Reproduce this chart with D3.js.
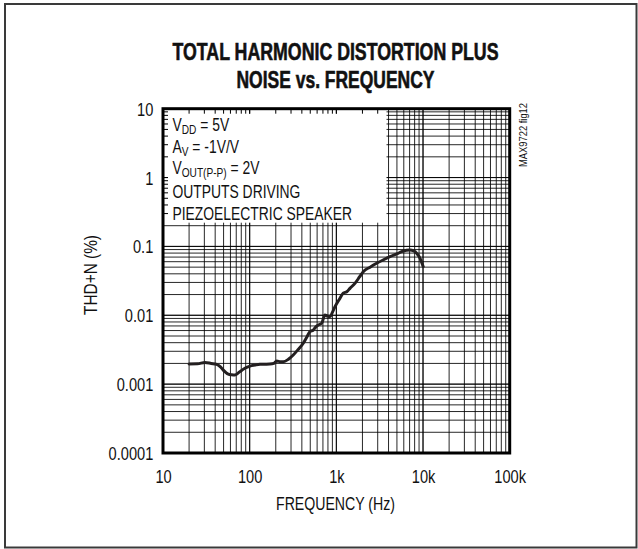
<!DOCTYPE html>
<html>
<head>
<meta charset="utf-8">
<script src="https://cdn.jsdelivr.net/npm/d3@7/dist/d3.min.js"></script>
<style>
  html, body { margin: 0; padding: 0; background: #fff; }
  svg { display: block; }
  text { font-family: "Liberation Sans", Arial, sans-serif; fill: #111; }
</style>
</head>
<body>
<svg id="chart" width="638" height="549"></svg>
<script>
// ---- data ----
const freqHz = [20, 25, 30.5, 36, 41.6, 46, 49.6, 53, 56.6, 62, 67.7, 72, 77.3, 88, 100.8, 115, 131.5, 150, 171, 190, 205, 225, 244, 280, 318, 360, 415, 455, 496, 541, 580, 618, 677, 739, 790, 844, 900, 964, 1080, 1201, 1320, 1435, 1639, 1850, 2043, 2450, 2916, 3500, 4152, 5000, 5909, 7062, 7800, 8438, 9300, 10050];
const thdPct = [0.00196, 0.00197, 0.00207, 0.00200, 0.00194, 0.00178, 0.00160, 0.00148, 0.00140, 0.00137, 0.00136, 0.00142, 0.00152, 0.00170, 0.00183, 0.00189, 0.00194, 0.00195, 0.00196, 0.00200, 0.00217, 0.00212, 0.00211, 0.00230, 0.00265, 0.00315, 0.00392, 0.00480, 0.00578, 0.00610, 0.00680, 0.00723, 0.00765, 0.01010, 0.00970, 0.00954, 0.01100, 0.01330, 0.01700, 0.02090, 0.02200, 0.02460, 0.02910, 0.03600, 0.04300, 0.05000, 0.05690, 0.06400, 0.07090, 0.07800, 0.08580, 0.08870, 0.08600, 0.07950, 0.06600, 0.05080];

const xTickValues = [10, 100, 1000, 10000, 100000];
const xTickLabels = ["10", "100", "1k", "10k", "100k"];
const yTickValues = [0.0001, 0.001, 0.01, 0.1, 1, 10];
const yTickLabels = ["0.0001", "0.001", "0.01", "0.1", "1", "10"];

const titleLines = ["TOTAL HARMONIC DISTORTION PLUS", "NOISE vs. FREQUENCY"];
const xAxisTitle = "FREQUENCY (Hz)";
const yAxisTitle = "THD+N (%)";
const figId = "MAX9722 fig12";
// legend lines: [main, subscript, rest]
const legendLines = [
  ["V", "DD", " = 5V"],
  ["A", "V", " = -1V/V"],
  ["V", "OUT(P-P)", " = 2V"],
  ["OUTPUTS DRIVING", "", ""],
  ["PIEZOELECTRIC SPEAKER", "", ""]
];

// ---- layout ----
const L = 163, R = 509.7, T = 108.7, B = 453;
const svg = d3.select("#chart");

const x = d3.scaleLog().domain([10, 100000]).range([L, R]);
const y = d3.scaleLog().domain([0.0001, 10]).range([B, T]);

// outer frame
svg.append("rect").attr("x", 5).attr("y", 4).attr("width", 631.5).attr("height", 543.5)
  .attr("fill", "#fff").attr("stroke", "#3a3a3a").attr("stroke-width", 2);

// title
titleLines.forEach((t, i) => {
  svg.append("text")
    .attr("x", 335.5).attr("y", [60, 88][i])
    .attr("text-anchor", "middle")
    .attr("font-size", 24).attr("font-weight", "bold")
    .attr("stroke", "#111").attr("stroke-width", 0.6)
    .attr("textLength", [326, 198][i]).attr("lengthAdjust", "spacingAndGlyphs")
    .text(t);
});

// grid values
const minorX = [], minorY = [];
for (let dec = 10; dec < 100000; dec *= 10) for (let k = 1; k <= 10; k++) minorX.push(dec * k);
for (let dec = 0.0001; dec < 10; dec *= 10) for (let k = 1; k <= 10; k++) minorY.push(+(dec * k).toPrecision(3));

const grid = svg.append("g").attr("stroke", "#000").attr("stroke-width", 1).attr("stroke-opacity", 0.85);
grid.selectAll("line.v").data(minorX.filter(v => v > 10 && v < 100000)).join("line")
  .attr("x1", d => x(d)).attr("x2", d => x(d)).attr("y1", T).attr("y2", B);
grid.selectAll("line.h").data(minorY.filter(v => v > 0.0001 && v < 10)).join("line")
  .attr("class", "h")
  .attr("x1", L).attr("x2", R).attr("y1", d => y(d)).attr("y2", d => y(d));

// legend box (white mask) with edge ticks
const boxR = 386.5, boxB = y(0.2) - 3;
svg.append("rect").attr("x", L).attr("y", T).attr("width", boxR - L).attr("height", boxB - T).attr("fill", "#fff");
const edge = svg.append("g").attr("stroke", "#000").attr("stroke-width", 1);
edge.selectAll("line.lt").data(minorY.filter(v => y(v) < boxB && v < 10)).join("line")
  .attr("x1", L).attr("x2", L + 5).attr("y1", d => y(d)).attr("y2", d => y(d));
edge.selectAll("line.tt").data(minorX.filter(v => x(v) < boxR && v > 10)).join("line")
  .attr("class", "tt")
  .attr("x1", d => x(d)).attr("x2", d => x(d)).attr("y1", T).attr("y2", T + 5);

// legend text
const legendBase = [130.5, 152.5, 173.5, 197.5, 219.5];
const lg = svg.append("g");
legendLines.forEach((ln, i) => {
  const t = lg.append("text")
    .attr("transform", `translate(172.5,${legendBase[i]}) scale(0.75,1)`)
    .attr("font-size", 18.5);
  t.append("tspan").text(ln[0]);
  if (ln[1]) t.append("tspan").attr("font-size", 13.5).attr("dy", 3.5).text(ln[1]);
  if (ln[2]) t.append("tspan").attr("dy", ln[1] ? -3.5 : 0).text(ln[2]);
});

// curve
const pts = freqHz.map((f, i) => [f, thdPct[i]]);
svg.append("path").datum(pts)
  .attr("fill", "none").attr("stroke", "#231f20").attr("stroke-width", 3)
  .attr("stroke-linejoin", "round").attr("stroke-linecap", "round")
  .attr("d", d3.line().x(d => x(d[0])).y(d => y(d[1])).curve(d3.curveMonotoneX));

// plot border
svg.append("rect").attr("x", L).attr("y", T).attr("width", R - L).attr("height", B - T)
  .attr("fill", "none").attr("stroke", "#000").attr("stroke-width", 3);

// axes (labels only)
const ax = svg.append("g").attr("transform", `translate(0,${B})`)
  .call(d3.axisBottom(x).tickValues(xTickValues).tickFormat((d, i) => xTickLabels[i]).tickSize(0).tickPadding(17));
const ay = svg.append("g").attr("transform", `translate(${L},0)`)
  .call(d3.axisLeft(y).tickValues(yTickValues).tickFormat((d, i) => yTickLabels[i]).tickSize(0).tickPadding(12.3));
[ax, ay].forEach(g => {
  g.select(".domain").remove();
  g.selectAll("text").attr("font-size", 18.5).attr("font-family", '"Liberation Sans", Arial, sans-serif')
    .attr("fill", "#111").attr("transform", "scale(0.79,1)");
});
ay.selectAll("text").attr("dy", "0.35em");

// axis titles
svg.append("text").attr("x", 335.5).attr("y", 510).attr("text-anchor", "middle")
  .attr("font-size", 18.5).attr("textLength", 119).attr("lengthAdjust", "spacingAndGlyphs").text(xAxisTitle);
svg.append("text").attr("transform", "translate(96.7,275) rotate(-90)").attr("text-anchor", "middle")
  .attr("font-size", 18.5).attr("textLength", 80).attr("lengthAdjust", "spacingAndGlyphs").text(yAxisTitle);
svg.append("text").attr("transform", "translate(526.5,135) rotate(-90)").attr("text-anchor", "middle")
  .attr("font-size", 11.5).attr("textLength", 64).attr("lengthAdjust", "spacingAndGlyphs").text(figId);
</script>
</body>
</html>
